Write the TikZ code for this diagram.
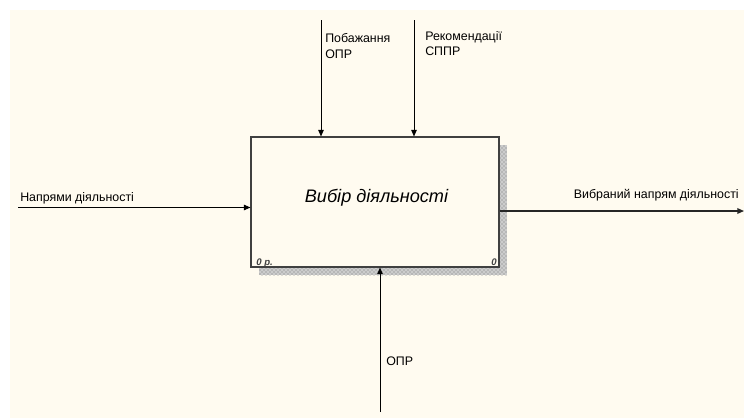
\documentclass[tikz,border=0pt]{standalone}
\usepackage{fontspec}
\setmainfont{Liberation Sans}
\usetikzlibrary{arrows.meta,patterns,calc}
\definecolor{paper}{HTML}{FFFBF0}
\definecolor{frame}{HTML}{404040}
\tikzset{
  arr/.style={draw=black, line width=0.75pt, -{Triangle[length=5pt,width=4.2pt]}},
  lbl/.style={inner sep=0pt, anchor=base west, font=\fontsize{9.3}{11.4}\selectfont, align=left},
  actbox/.style={draw=frame, line width=0.8pt, fill=paper, inner sep=0pt,
    minimum width=186pt, minimum height=97.5pt},
  corner/.style={inner sep=0pt, anchor=base west, font=\fontsize{7.2}{8}\selectfont\itshape\bfseries, text=frame}
}
\begin{document}
\begin{tikzpicture}[x=0.75pt, y=-0.75pt]
  % page and paper area
  \useasboundingbox (0,0) rectangle (744,418);
  \fill[white] (0,0) rectangle (744,418);
  \fill[paper] (10,10) rectangle (744,418);

  % hatched shadow behind the activity box
  \fill[gray!40] (259,145) rectangle (507,275);
  \fill[pattern=crosshatch dots, pattern color=gray!90!black] (259,145) rectangle (507,275);

  % activity box
  \node[actbox] (box) at (375,202) {};
  \node[inner sep=0pt, anchor=base, font=\fontsize{13.6}{15}\selectfont\itshape] (title) at (376.5,202) {Вибір діяльності};
  \node[corner] (num) at (256,265) {0 р.};
  \node[corner] (idx) at (491,265) {0};

  % control inputs from above
  \coordinate (c1) at (321,20);
  \coordinate (c2) at (414,20);
  \draw[arr] (c1) -- (c1 |- box.north);
  \draw[arr] (c2) -- (c2 |- box.north);
  \node[lbl] (c1l) at (325,58) {Побажання\\ОПР};
  \node[lbl] (c2l) at (425,55.5) {Рекомендації\\СППР};

  % input from the left
  \coordinate (in) at (18,207.5);
  \draw[arr] (in) -- (in -| box.west);
  \node[lbl] (inl) at (20,201) {Напрями діяльності};

  % output to the right
  \coordinate (out) at (744,211);
  \draw[arr, line width=1pt, draw=black!85] (out -| box.east) -- (out);
  \node[lbl, anchor=base east] (outl) at (739,198) {Вибраний напрям діяльності};

  % mechanism from below
  \coordinate (m) at (380,412);
  \draw[arr] (m) -- (m |- box.south);
  \node[lbl] (ml) at (386,365) {ОПР};
\end{tikzpicture}
\end{document}
